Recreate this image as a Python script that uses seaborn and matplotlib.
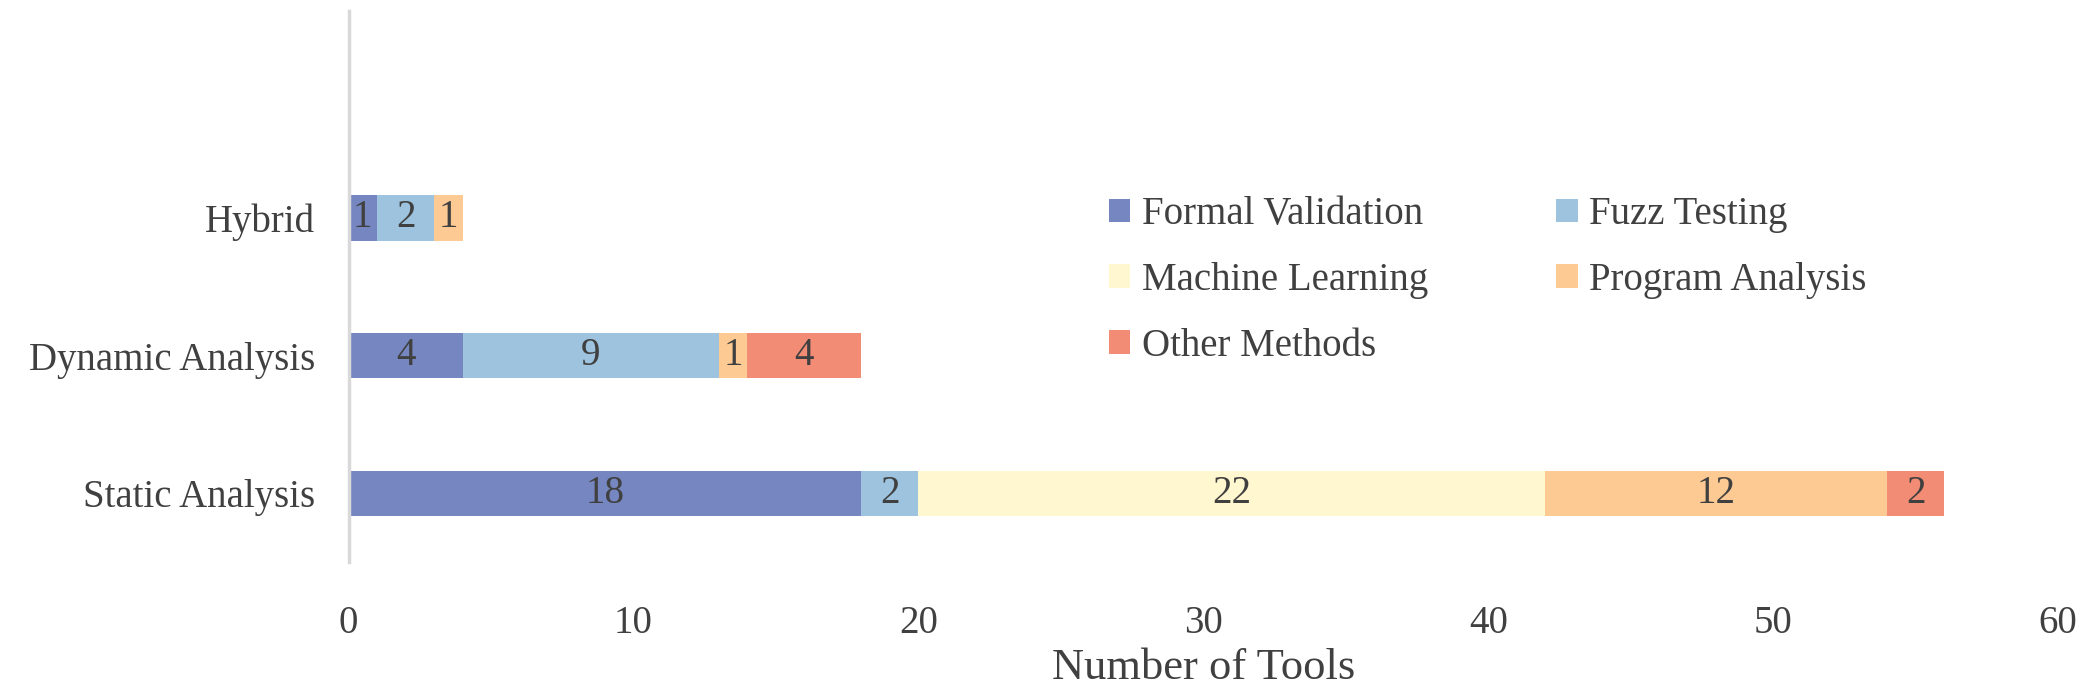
import numpy as np
import pandas as pd
import seaborn as sns
import matplotlib
matplotlib.use('Agg')
import matplotlib.pyplot as plt
from matplotlib.patches import Patch

# Data
categories = ['Hybrid', 'Dynamic Analysis', 'Static Analysis']
methods = ['Formal Validation', 'Fuzz Testing', 'Machine Learning',
           'Program Analysis', 'Other Methods']
formal_validation = [1, 4, 18]
fuzz_testing = [2, 9, 2]
machine_learning = [0, 0, 22]
program_analysis = [1, 1, 12]
other_methods = [0, 4, 2]
colors = ['#7586C0', '#9DC3DE', '#FFF7CF', '#FDCA93', '#F28C74']
x_ticks = [0, 10, 20, 30, 40, 50, 60]

df = pd.DataFrame({'category': categories,
                   'Formal Validation': formal_validation,
                   'Fuzz Testing': fuzz_testing,
                   'Machine Learning': machine_learning,
                   'Program Analysis': program_analysis,
                   'Other Methods': other_methods})
cum = df[methods].cumsum(axis=1)

sns.set_style('white')
plt.rcParams['font.family'] = ['Liberation Serif', 'DejaVu Serif']
text_col = '#404040'

fig = plt.figure(figsize=(21, 7), dpi=100)
ax = fig.add_axes([0.166, 0.197, 0.814, 0.787])

# stacked bars: draw cumulative totals from the last segment backwards
for m, c in reversed(list(zip(methods, colors))):
    sns.barplot(x=cum[m], y=df['category'], order=categories, orient='h',
                color=c, width=0.33, saturation=1, edgecolor='none', ax=ax)

# segment labels
for i, cat in enumerate(categories):
    for m in methods:
        v = df.loc[i, m]
        if v > 0:
            ax.text(cum.loc[i, m] - v / 2, cat, str(v), ha='center', va='center',
                    fontsize=28, color=text_col)

ax.set_xlim(0, 60)
ax.set_ylim(2.5, -1.5)
ax.set_xticks(x_ticks)
ax.set_xlabel('Number of Tools', fontsize=32, color=text_col, labelpad=4)
ax.set_ylabel('')
ax.tick_params(axis='both', length=0, labelsize=28, colors=text_col)
ax.tick_params(axis='x', pad=31)
ax.tick_params(axis='y', pad=24)
for s in ['top', 'right', 'bottom']:
    ax.spines[s].set_visible(False)
ax.spines['left'].set_color('#D9D9D9')
ax.spines['left'].set_linewidth(2.5)

# legend filled row by row: FV, FT / ML, PA / OM
handles = [Patch(facecolor=c, edgecolor='none', label=m) for m, c in zip(methods, colors)]
handles = [handles[0], handles[2], handles[4], handles[1], handles[3]]
leg = fig.legend(handles=handles, ncol=2, loc='upper left',
                 bbox_to_anchor=(0.528, 0.72), frameon=False, fontsize=28,
                 handlelength=0.55, handleheight=0.55, handletextpad=0.3,
                 columnspacing=3.3, labelspacing=0.74, borderpad=0, borderaxespad=0)
for t in leg.get_texts():
    t.set_color(text_col)

fig.savefig('out.png', dpi=100)
